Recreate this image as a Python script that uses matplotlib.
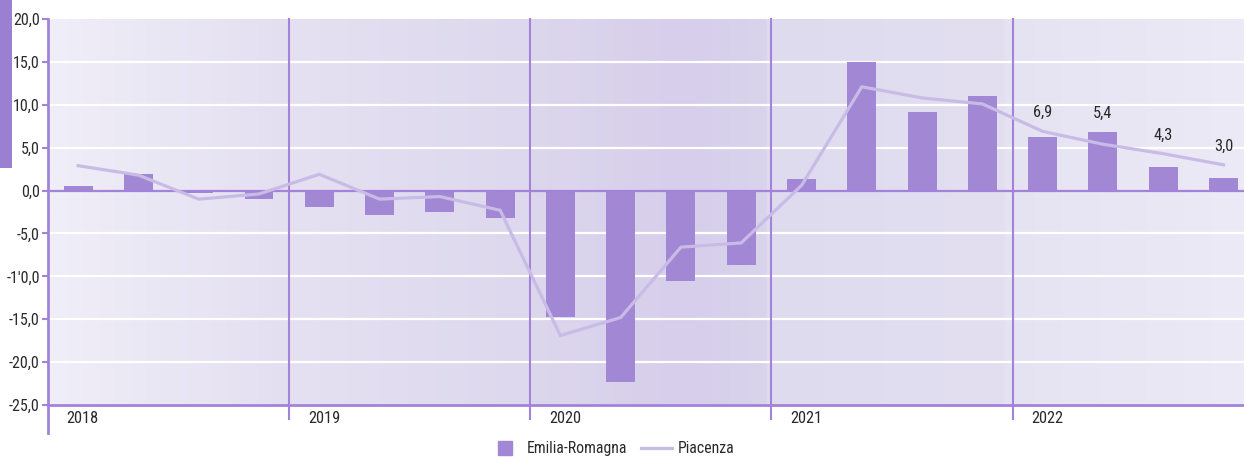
import matplotlib
matplotlib.use("Agg")
import matplotlib.pyplot as plt
import numpy as np
from matplotlib.lines import Line2D
from matplotlib.patches import Rectangle
import matplotlib.transforms as mtransforms
from matplotlib.colors import LinearSegmentedColormap

plt.rcParams['font.family'] = ['Roboto Condensed', 'DejaVu Sans Condensed',
                               'Liberation Sans Narrow', 'Roboto', 'DejaVu Sans']

# Quarterly year-on-year change, 2018 Q1 - 2022 Q4
years = ["2018", "2019", "2020", "2021", "2022"]
emilia_romagna = [0.5, 1.9, -0.3, -1.0,
                  -1.9, -2.9, -2.5, -3.2,
                  -14.7, -22.3, -10.5, -8.7,
                  1.3, 15.0, 9.2, 11.0,
                  6.3, 6.8, 2.8, 1.5]
piacenza = [2.9, 1.8, -1.0, -0.4,
            1.9, -1.0, -0.7, -2.3,
            -16.9, -14.8, -6.6, -6.1,
            0.6, 12.1, 10.8, 10.1,
            6.9, 5.4, 4.3, 3.0]
labelled_quarters = [16, 17, 18, 19]
y_ticks = [-25, -20, -15, -10, -5, 0, 5, 10, 15, 20]
y_tick_labels = ["-25,0", "-20,0", "-15,0", "-1'0,0", "-5,0",
                 "0,0", "5,0", "10,0", "15,0", "20,0"]

BAR = "#a287d4"
LINE = "#c8bce6"
AXIS = "#a383d9"
TEXT = "#2a2a2a"

W, H = 1244, 457
fig = plt.figure(figsize=(W / 100, H / 100), dpi=100)
ax = fig.add_axes([48 / W, (H - 405) / H, 1 - 48 / W, (405 - 19) / H])

n = len(emilia_romagna)
x = np.arange(n)
ax.set_xlim(-0.5, 19.34)
ax.set_ylim(-25, 20)

# background: soft lavender gradient, darkest over 2020
stops = [(0.00, (240, 238, 248)), (0.20, (227, 223, 241)), (0.201, (229, 225, 242)),
         (0.40, (221, 216, 237)), (0.401, (221, 215, 237)), (0.53, (214, 206, 235)),
         (0.60, (217, 211, 236)), (0.601, (223, 219, 239)), (0.80, (227, 223, 241)),
         (0.801, (229, 226, 242)), (1.00, (237, 234, 247))]
cmap = LinearSegmentedColormap.from_list(
    "bg", [(p, tuple(c / 255 for c in rgb)) for p, rgb in stops])
grad = np.linspace(0, 1, 1000)[None, :]
ax.imshow(grad, aspect="auto", cmap=cmap, extent=(-0.5, 19.34, -25, 20),
          zorder=0, interpolation="bilinear")

# horizontal grid
for t in y_ticks:
    if t in (0, -25, 20):
        continue
    ax.axhline(t, color="white", lw=1.6, zorder=1)
ax.axhline(0, color=AXIS, lw=1.6, zorder=3)

# year dividers
trans_x = mtransforms.blended_transform_factory(ax.transData, ax.transAxes)
for k in range(1, len(years)):
    xd = 4 * k - 0.5
    ax.add_line(Line2D([xd, xd], [1, -0.036], transform=trans_x, color=AXIS,
                       lw=1.5, clip_on=False, zorder=4))
for k, yr in enumerate(years):
    ax.text(4 * k - 0.5 + 0.31, -0.034, yr, transform=trans_x, ha="left",
            va="center", fontsize=11.8, color=TEXT)

ax.bar(x, emilia_romagna, width=0.48, color=BAR, zorder=2)
ax.plot(x, piacenza, color=LINE, lw=2.3, zorder=5, solid_joinstyle="miter")

# value labels sit above whichever mark is higher in that quarter
for i in labelled_quarters:
    top = max(piacenza[i], emilia_romagna[i])
    ax.annotate(f"{piacenza[i]:.1f}".replace(".", ","), (x[i], top),
                xytext=(0, 8), textcoords="offset points", ha="center",
                va="bottom", fontsize=11.8, color=TEXT, zorder=6)

# axes styling
for side in ("top", "right"):
    ax.spines[side].set_visible(False)
ax.spines["bottom"].set_color(AXIS)
ax.spines["bottom"].set_linewidth(2)
ax.spines["left"].set_visible(False)
ax.add_line(Line2D([-0.5, -0.5], [1, -0.0725], transform=trans_x, color=AXIS,
                   lw=2, clip_on=False, zorder=4))
ax.set_xticks([])
ax.set_yticks(y_ticks)
ax.set_yticklabels(y_tick_labels)
ax.tick_params(axis="y", direction="out", length=4, width=1.5, color=AXIS,
               pad=2, labelsize=11.5, labelcolor=TEXT)

# decorative side bar
fig.add_artist(Rectangle((0, 1 - 168 / H), 12 / W, 168 / H,
                         transform=fig.transFigure, color="#9b7fd0", lw=0))

handles = [Line2D([], [], marker="s", ls="none", ms=9.5, color=BAR),
           Line2D([], [], color=LINE, lw=2.3)]
fig.legend(handles, ["Emilia-Romagna", "Piacenza"], loc="center",
           bbox_to_anchor=(0.492, 0.018), ncol=2, frameon=False,
           fontsize=11.3, handlelength=2.0, handletextpad=0.35,
           columnspacing=0.9, labelcolor=TEXT)

fig.savefig("out.png", dpi=100, facecolor="white")
